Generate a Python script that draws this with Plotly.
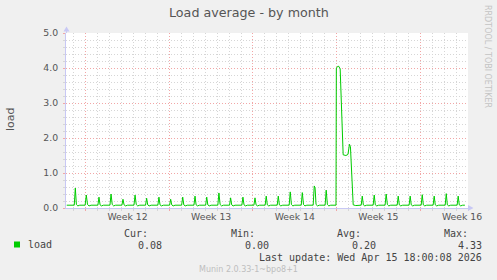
import plotly.graph_objects as go

# ---- data (days since Sun 15 Mar 2026 00:00, load average) ----
t_day = [
    -1.59, -1.25, -1.02,
    -0.96, -0.87, -0.78, -0.66, -0.50,
    -0.05, 0.05, 0.15, 0.28, 0.45,
    1.02, 1.11, 1.20, 1.32, 1.48,
    2.03, 2.12, 2.22, 2.34, 2.50,
    3.03, 3.12, 3.21, 3.33, 3.50,
    4.04, 4.13, 4.23, 4.35, 4.52,
    5.01, 5.10, 5.19, 5.31, 5.48,
    6.04, 6.13, 6.22, 6.34, 6.50,
    7.02, 7.11, 7.20, 7.32, 7.48,
    8.03, 8.12, 8.21, 8.33, 8.50,
    9.06, 9.15, 9.24, 9.36, 9.52,
    10.04, 10.13, 10.22, 10.34, 10.50,
    11.06, 11.15, 11.25, 11.37, 11.53,
    12.04, 12.13, 12.22, 12.34, 12.50,
    13.07, 13.16, 13.25, 13.37, 13.53,
    14.08, 14.17, 14.26, 14.38, 14.54,
    15.02, 15.11, 15.20, 15.32, 15.48,
    16.03, 16.12, 16.21, 16.33, 16.49,
    17.03, 17.12, 17.22, 17.34, 17.50,
    18.04, 18.13, 18.23, 18.35, 18.51,
    19.04, 19.13, 19.20, 19.28, 19.40, 19.56,
    20.04, 20.13, 20.23, 20.35, 20.51,
    20.95, 20.98, 21.15, 21.30, 21.55, 21.78, 21.95, 22.08, 22.16, 22.39, 22.60,
    23.06, 23.15, 23.24, 23.36, 23.52,
    24.06, 24.15, 24.24, 24.36, 24.52,
    25.06, 25.15, 25.25, 25.37, 25.53,
    26.07, 26.16, 26.25, 26.37, 26.53,
    27.07, 27.16, 27.25, 27.37, 27.53,
    28.08, 28.17, 28.26, 28.38, 28.54,
    29.08, 29.17, 29.26, 29.38, 29.54,
    30.09, 30.18, 30.27, 30.39, 30.55,
    31.09, 31.18, 31.27, 31.39, 31.55,
    31.74,
]
load = [
    0.08, 0.08, 0.07,
    0.08, 0.57, 0.10, 0.06, 0.08,
    0.08, 0.37, 0.10, 0.06, 0.08,
    0.08, 0.31, 0.09, 0.06, 0.08,
    0.08, 0.40, 0.10, 0.06, 0.08,
    0.08, 0.25, 0.09, 0.06, 0.08,
    0.08, 0.37, 0.10, 0.06, 0.08,
    0.08, 0.28, 0.09, 0.06, 0.08,
    0.08, 0.31, 0.09, 0.06, 0.08,
    0.08, 0.25, 0.09, 0.06, 0.08,
    0.08, 0.31, 0.09, 0.06, 0.08,
    0.08, 0.34, 0.09, 0.06, 0.08,
    0.08, 0.31, 0.09, 0.06, 0.08,
    0.08, 0.43, 0.10, 0.06, 0.08,
    0.08, 0.29, 0.09, 0.06, 0.08,
    0.08, 0.31, 0.09, 0.06, 0.08,
    0.08, 0.29, 0.09, 0.06, 0.08,
    0.08, 0.34, 0.09, 0.06, 0.08,
    0.08, 0.34, 0.09, 0.06, 0.08,
    0.08, 0.46, 0.10, 0.06, 0.08,
    0.08, 0.44, 0.10, 0.06, 0.08,
    0.08, 0.63, 0.57, 0.10, 0.06, 0.08,
    0.08, 0.51, 0.10, 0.06, 0.08,
    0.08, 4.00, 4.06, 3.98, 1.52, 1.50, 1.53, 1.82, 1.75, 0.09, 0.07,
    0.08, 0.34, 0.09, 0.06, 0.08,
    0.08, 0.37, 0.09, 0.06, 0.08,
    0.08, 0.40, 0.10, 0.06, 0.08,
    0.08, 0.34, 0.09, 0.06, 0.08,
    0.08, 0.34, 0.09, 0.06, 0.08,
    0.08, 0.38, 0.09, 0.06, 0.08,
    0.08, 0.34, 0.09, 0.06, 0.08,
    0.08, 0.41, 0.09, 0.06, 0.08,
    0.08, 0.34, 0.09, 0.06, 0.08,
    0.08,
]
week_labels = ["Week 12", "Week 13", "Week 14", "Week 15", "Week 16"]
y_ticks = [0, 1, 2, 3, 4, 5]
stat_names = ["Cur:", "Min:", "Avg:", "Max:"]
stat_values = ["0.08", "0.00", "0.20", "4.33"]
series_name = "load"
title_text = "Load average - by month"
last_update = "Last update: Wed Apr 15 18:00:08 2026"
footer = "Munin 2.0.33-1~bpo8+1"
side_text = "RRDTOOL / TOBI OETIKER"

# ---- layout geometry ----
W, H = 497, 280
L, R, T, B = 66, 29, 33, 72
PW, PH = W - L - R, H - T - B
X_RANGE = [-1.65, 32.0]

GREEN = "#00CC00"
RED_GRID = "#F2A6A6"
GRAY_GRID = "#D6D6D6"
AXIS = "#C8C8F4"
TXT = "#555555"
DOT = "1px,2px"


def px(x):
    return (x - L) / PW


def py(y):
    return (H - B - y) / PH


fig = go.Figure()
fig.add_trace(go.Scatter(x=t_day, y=load, mode="lines",
                         line=dict(color=GREEN, width=1),
                         hoverinfo="skip", showlegend=False))
# invisible trace to carry the week label axis
fig.add_trace(go.Scatter(x=[None], y=[None], xaxis="x2", showlegend=False,
                         hoverinfo="skip"))

font = dict(family="DejaVu Sans", size=9.3, color=TXT)
mono = dict(family="DejaVu Sans Mono", size=10, color="#444444")

fig.update_layout(
    width=W, height=H,
    margin=dict(l=L, r=R, t=T, b=B, pad=0),
    paper_bgcolor="#F0F0F0", plot_bgcolor="#FFFFFF",
    font=font,
    xaxis=dict(
        range=X_RANGE, tickmode="array",
        tickvals=[7 * i for i in range(len(week_labels))],
        showticklabels=False,
        ticks="outside", ticklen=2, tickcolor=RED_GRID, tickwidth=1,
        showgrid=True, gridcolor=RED_GRID, griddash=DOT, gridwidth=1,
        minor=dict(tickmode="linear", tick0=0, dtick=1, showgrid=True,
                   gridcolor=GRAY_GRID, griddash=DOT, gridwidth=1,
                   ticks="outside", ticklen=2, tickcolor=GRAY_GRID),
        showline=True, linecolor=AXIS, linewidth=1,
        zeroline=False, fixedrange=True,
    ),
    xaxis2=dict(
        overlaying="x", anchor="y", side="bottom", range=X_RANGE,
        tickmode="array",
        tickvals=[7 * i + 3.5 for i in range(len(week_labels))],
        ticktext=week_labels, ticks="", showgrid=False, showline=False,
        zeroline=False, tickfont=font, ticklabelstandoff=2,
    ),
    yaxis=dict(
        range=[0, 5], tickmode="array", tickvals=y_ticks,
        ticktext=[f"{v:.1f}" for v in y_ticks],
        ticks="outside", ticklen=2, tickcolor=RED_GRID,
        showgrid=True, gridcolor=RED_GRID, griddash=DOT, gridwidth=1,
        minor=dict(tickmode="linear", tick0=0, dtick=0.2, showgrid=True,
                   gridcolor=GRAY_GRID, griddash=DOT, gridwidth=1,
                   ticks="outside", ticklen=2, tickcolor=GRAY_GRID),
        showline=True, linecolor=AXIS, linewidth=1,
        zeroline=False, tickfont=font, ticklabelstandoff=3,
    ),
)

ann = []
ann.append(dict(text=title_text, x=px(248.5), y=py(13), xanchor="center",
                yanchor="middle", font=dict(family="DejaVu Sans", size=12.7,
                                            color="#555555")))
ann.append(dict(text=series_name, x=px(10), y=py(119), textangle=-90,
                xanchor="center", yanchor="middle",
                font=dict(family="DejaVu Sans", size=11, color=TXT)))
ann.append(dict(text=side_text, x=px(488), y=py(56), textangle=90,
                xanchor="center", yanchor="middle",
                font=dict(family="DejaVu Sans", size=8, color="#C4C4C4")))
ann.append(dict(text=series_name, x=px(26), y=py(244.5), xanchor="left",
                yanchor="middle", font=mono))
for i, (nm, val) in enumerate(zip(stat_names, stat_values)):
    ann.append(dict(text=nm, x=px(150 + 106.7 * i), y=py(233),
                    xanchor="right", yanchor="middle", font=mono))
    ann.append(dict(text=val, x=px(164.3 + 106.7 * i), y=py(245),
                    xanchor="right", yanchor="middle", font=mono))
ann.append(dict(text=last_update, x=px(484), y=py(257.5), xanchor="right",
                yanchor="middle", font=mono))
ann.append(dict(text=footer, x=px(248.5), y=py(269.5), xanchor="center",
                yanchor="middle",
                font=dict(family="DejaVu Sans", size=8, color="#BEBEBE")))
for a in ann:
    a.update(xref="paper", yref="paper", showarrow=False)
fig.update_layout(annotations=ann)

shapes = [
    # legend colour box
    dict(type="rect", x0=px(14), x1=px(20), y0=py(247.5), y1=py(241.5),
         fillcolor=GREEN, line=dict(width=0)),
    # y axis arrow
    dict(type="path",
         path=f"M {px(63.5)},{py(31.5)} L {px(69.5)},{py(31.5)} L {px(66.5)},{py(26.5)} Z",
         fillcolor=AXIS, line=dict(width=0)),
    dict(type="line", x0=px(66.5), x1=px(66.5), y0=py(33), y1=py(31),
         line=dict(color=AXIS, width=1)),
    # x axis arrow
    dict(type="path",
         path=f"M {px(468)},{py(205)} L {px(468)},{py(211)} L {px(473.5)},{py(208)} Z",
         fillcolor=AXIS, line=dict(width=0)),
]
for s in shapes:
    s.update(xref="paper", yref="paper")
fig.update_layout(shapes=shapes)

fig.write_html("out.html")
